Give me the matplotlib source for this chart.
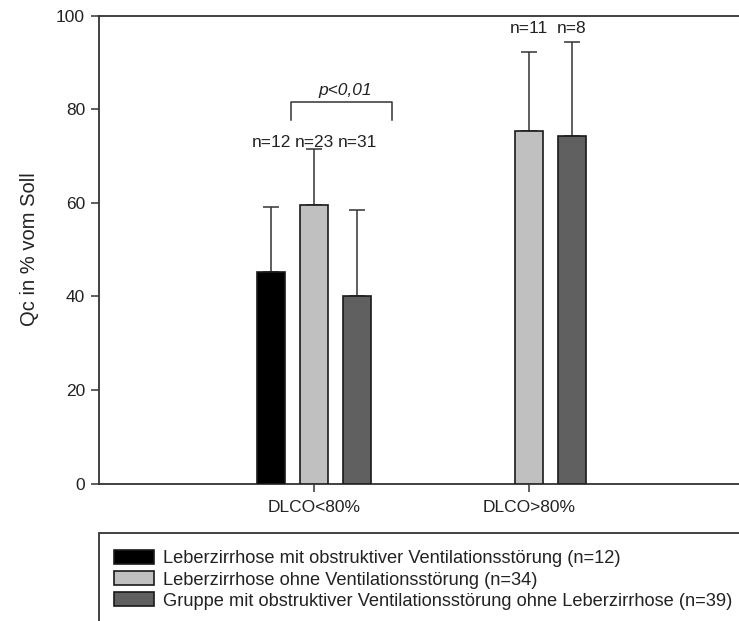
import matplotlib
matplotlib.use("Agg")
import matplotlib.pyplot as plt
from matplotlib.patches import Rectangle, Patch
import numpy as np

plt.rcParams['font.family'] = ['Liberation Sans', 'DejaVu Sans']

# Data
groups = ["DLCO<80%", "DLCO>80%"]
series = [
    "Leberzirrhose mit obstruktiver Ventilationsstörung (n=12)",
    "Leberzirrhose ohne Ventilationsstörung (n=34)",
    "Gruppe mit obstruktiver Ventilationsstörung ohne Leberzirrhose (n=39)",
]
colors = ["#000000", "#c0c0c0", "#606060"]
# means per series for each group (None = no bar)
means = [
    [45.2, None],
    [59.6, 75.4],
    [40.1, 74.3],
]
sd_upper = [
    [14.0, None],
    [11.9, 16.9],
    [18.3, 20.1],
]
n_labels = [
    ["n=12", None],
    ["n=23", "n=11"],
    ["n=31", "n=8"],
]
yticks = [0, 20, 40, 60, 80, 100]

W, H = 739, 621
fig = plt.figure(figsize=(W / 100, H / 100), dpi=100)
ax = fig.add_axes([99 / W, 1 - 483.5 / H, 645 / W, (483.5 - 15.7) / H])

xpos = np.array([1.0, 2.0])
offsets = [-0.2, 0.0, 0.2]
width = 0.126
label_y = [73.0, 97.2]
fs = 12.5
fs_leg = 13.15

for s in range(3):
    for g in range(2):
        m = means[s][g]
        if m is None:
            continue
        x = xpos[g] + offsets[s]
        ax.bar(x, m, width=width, color=colors[s], edgecolor="#1a1a1a",
               linewidth=1.2, zorder=3)
        ax.errorbar(x, m, yerr=[[0], [sd_upper[s][g]]], fmt="none",
                    ecolor="#333333", elinewidth=1.1, capsize=6,
                    capthick=1.1, zorder=2)
        ax.text(x, label_y[g], n_labels[s][g], ha="center", va="center",
                fontsize=fs, color="#222222")

# significance bracket
bx0, bx1, by, bdrop = 0.894, 1.363, 81.5, 77.8
ax.plot([bx0, bx0, bx1, bx1], [bdrop, by, by, bdrop], color="#333333",
        lw=1.1, zorder=4)
ax.text(1.147, 84.0, "p<0,01", ha="center", va="center", fontsize=fs,
        style="italic", color="#222222")

ax.set_xlim(0, 3)
ax.set_ylim(0, 100)
ax.set_xticks(xpos)
ax.set_xticklabels(groups, fontsize=fs)
ax.set_yticks(yticks)
ax.set_yticklabels([str(v) for v in yticks], fontsize=fs)
ax.tick_params(axis="both", direction="out", length=6, width=1.1,
               color="#333333", labelcolor="#222222")
ax.tick_params(axis="x", pad=6)
ax.tick_params(axis="y", pad=4)
for side in ["left", "bottom", "top"]:
    ax.spines[side].set_color("#333333")
    ax.spines[side].set_linewidth(1.3)
ax.spines["right"].set_visible(False)
ax.set_ylabel("Qc in % vom Soll", fontsize=14.5, color="#222222", labelpad=12)

# legend box, running off the right and bottom edges
fig.patches.append(Rectangle((99 / W, -0.05), 660 / W, (1 - 533 / H) + 0.05,
                             transform=fig.transFigure, fill=False,
                             edgecolor="#333333", linewidth=1.3))
handles = [Patch(facecolor=c, edgecolor="#1a1a1a", linewidth=1.2) for c in colors]
fig.legend(handles, series, loc="upper left",
           bbox_to_anchor=(114 / W, 1 - 550 / H), frameon=False,
           fontsize=fs_leg, handlelength=2.2, handleheight=0.8,
           handletextpad=0.5, labelspacing=0.21, borderpad=0,
           borderaxespad=0, labelcolor="#222222")

fig.savefig("out.png", dpi=100)
